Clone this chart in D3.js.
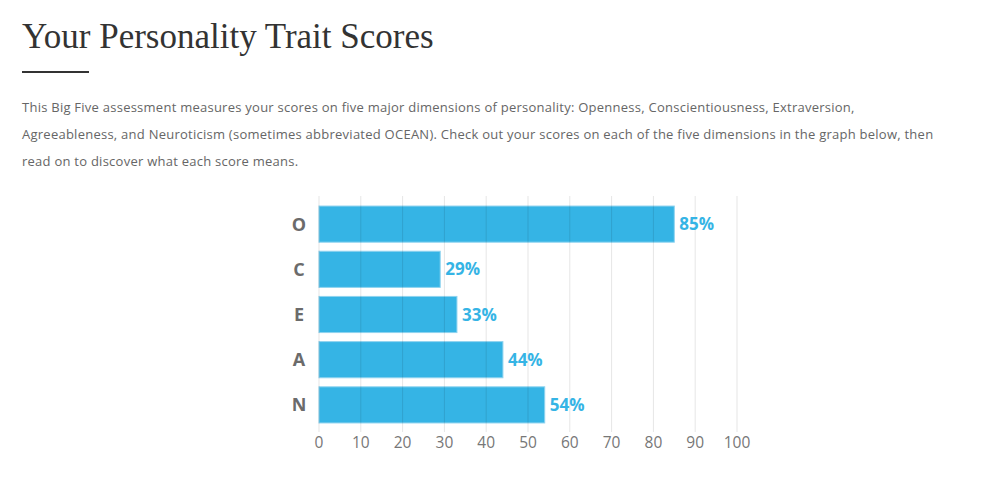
<!DOCTYPE html>
<html><head><meta charset="utf-8">
<script src="https://cdn.jsdelivr.net/npm/d3@7"></script>
<style>
body{margin:0;background:#fff;}
</style></head>
<body>
<svg id="c" width="981" height="493"></svg>
<script>
const categories = ["O","C","E","A","N"];
const scores = [85,29,33,44,54];
const ticks = [0,10,20,30,40,50,60,70,80,90,100];
const title = "Your Personality Trait Scores";
const paragraph = [
 "This Big Five assessment measures your scores on five major dimensions of personality: Openness, Conscientiousness, Extraversion,",
 "Agreeableness, and Neuroticism (sometimes abbreviated OCEAN). Check out your scores on each of the five dimensions in the graph below, then",
 "read on to discover what each score means."
];
const svg = d3.select("#c");
svg.append("text").attr("x",22).attr("y",48).attr("font-family","Liberation Serif, serif")
  .attr("font-size",35).attr("fill","#333").text(title);
svg.append("rect").attr("x",22).attr("y",71).attr("width",67).attr("height",2).attr("fill","#333");
svg.selectAll("text.p").data(paragraph).join("text").attr("class","p")
  .attr("x",22).attr("y",(d,i)=>112+i*27).attr("font-family","Open Sans").attr("font-size",13)
  .attr("letter-spacing",0.25).attr("fill","#666").text(d=>d);

const x = d3.scaleLinear().domain([0,100]).range([319,737]);
const y = d3.scaleBand().domain(categories).range([197,432]).paddingInner(0.2).paddingOuter(0.2);
const data = categories.map((c,i)=>({c,v:scores[i]}));
const g = svg.append("g");
g.selectAll("rect.bar").data(data).join("rect").attr("class","bar")
  .attr("x",x(0)).attr("y",d=>y(d.c)).attr("width",d=>x(d.v)-x(0)).attr("height",y.bandwidth())
  .attr("fill","#35b4e5").attr("stroke","#8fd3ef").attr("stroke-width",1);
g.selectAll("line.grid").data(ticks).join("line").attr("class","grid")
  .attr("x1",d=>x(d)).attr("x2",d=>x(d)).attr("y1",196).attr("y2",432)
  .attr("stroke","#000").attr("stroke-opacity",0.1).attr("stroke-width",1);
g.selectAll("text.v").data(data).join("text").attr("class","v")
  .attr("x",d=>x(d.v)+5).attr("y",d=>y(d.c)+y.bandwidth()/2).attr("dy","0.36em")
  .attr("font-family","Open Sans").attr("font-weight","bold").attr("font-size",17)
  .attr("fill","#35b4e5").text(d=>d.v+"%");
g.selectAll("text.cat").data(categories).join("text").attr("class","cat")
  .attr("x",299).attr("y",d=>y(d)+y.bandwidth()/2).attr("dy","0.36em").attr("text-anchor","middle")
  .attr("font-family","Open Sans").attr("font-weight","bold").attr("font-size",18)
  .attr("fill","#6b6b6b").text(d=>d);
g.selectAll("text.t").data(ticks).join("text").attr("class","t")
  .attr("x",d=>x(d)).attr("y",448).attr("text-anchor","middle")
  .attr("font-family","Open Sans").attr("font-size",15.5).attr("fill","#777").text(d=>d);
</script>
</body></html>
